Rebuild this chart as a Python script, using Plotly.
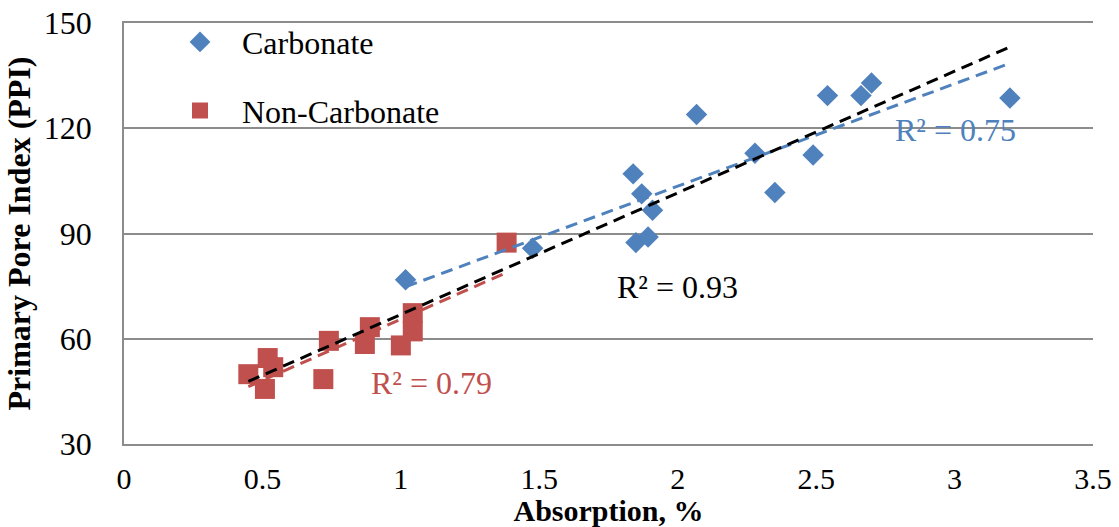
import numpy as np
import plotly.graph_objects as go

# ---- data ----
carb_x = [1.017, 1.476, 1.839, 1.870, 1.909, 1.849, 1.893, 2.068, 2.279, 2.351, 2.489, 2.541, 2.662, 2.700, 3.200]
carb_y = [76.8, 85.8, 107.0, 101.3, 96.6, 87.4, 89.0, 123.9, 112.9, 101.7, 112.4, 129.3, 129.3, 132.9, 128.6]

non_x = [0.449, 0.519, 0.539, 0.509, 0.720, 0.740, 0.888, 0.870, 1.000, 1.043, 1.043, 1.382]
non_y = [49.9, 54.5, 51.9, 45.7, 48.5, 59.4, 63.3, 58.5, 58.1, 67.3, 62.1, 87.4]

x_ticks = [0, 0.5, 1, 1.5, 2, 2.5, 3, 3.5]
x_tick_labels = ["0", "0.5", "1", "1.5", "2", "2.5", "3", "3.5"]
y_ticks = [30, 60, 90, 120, 150]
y_tick_labels = ["30", "60", "90", "120", "150"]

r2_labels = {"all": "R² = 0.93", "carb": "R² = 0.75", "non": "R² = 0.79"}

BLUE = "#4F81BD"
RED = "#C0504D"
GRID = "#8C8C8C"
FONT = "Liberation Serif"
FS = 32


def fit_line(xs, ys):
    xs = np.asarray(xs)
    ys = np.asarray(ys)
    m, b = np.polyfit(xs, ys, 1)
    xx = np.array([xs.min(), xs.max()])
    return xx, m * xx + b


fig = go.Figure()

fig.add_trace(go.Scatter(
    x=carb_x, y=carb_y, mode="markers", name="Carbonate",
    legendgroup="c",
    marker=dict(symbol="diamond", size=16.5, color=BLUE, line=dict(width=0)),
))
fig.add_trace(go.Scatter(
    x=non_x, y=non_y, mode="markers", name="Non-Carbonate",
    legendgroup="n",
    marker=dict(symbol="square", size=20, color=RED, line=dict(width=0)),
))

dash = "12px,7px"
lx, ly = fit_line(non_x, non_y)
fig.add_trace(go.Scatter(x=lx, y=ly, mode="lines", showlegend=False,
                         line=dict(color=RED, width=3, dash=dash)))
lx, ly = fit_line(carb_x, carb_y)
fig.add_trace(go.Scatter(x=lx, y=ly, mode="lines", showlegend=False,
                         line=dict(color=BLUE, width=3, dash=dash)))
lx, ly = fit_line(carb_x + non_x, carb_y + non_y)
fig.add_trace(go.Scatter(x=lx, y=ly, mode="lines", showlegend=False,
                         line=dict(color="black", width=3, dash=dash)))

fig.add_annotation(x=2.001, y=74.8, text=r2_labels["all"], showarrow=False,
                   font=dict(family=FONT, size=FS, color="black"))
fig.add_annotation(x=3.005, y=119.6, text=r2_labels["carb"], showarrow=False,
                   font=dict(family=FONT, size=FS, color=BLUE))
fig.add_annotation(x=1.109, y=47.4, text=r2_labels["non"], showarrow=False,
                   font=dict(family=FONT, size=FS, color=RED))

fig.update_layout(
    width=1119, height=527,
    margin=dict(l=124, r=26, t=23, b=83, autoexpand=False),
    paper_bgcolor="white", plot_bgcolor="white",
    font=dict(family=FONT, size=FS, color="black"),
    showlegend=True,
    legend=dict(
        x=(158 - 124) / (1093 - 124), y=1.02, xanchor="left", yanchor="top",
        bgcolor="rgba(0,0,0,0)", borderwidth=0,
        font=dict(family=FONT, size=FS, color="black"),
        traceorder="grouped", tracegroupgap=24, itemwidth=74,
    ),
    xaxis=dict(
        range=[0, 3.5], tickvals=x_ticks, ticktext=x_tick_labels,
        showgrid=False, zeroline=False, showline=True, mirror=True,
        linecolor=GRID, linewidth=1.5, ticks="", ticklabelstandoff=7,
        automargin=False,
        tickfont=dict(family=FONT, size=30, color="black"),
        title=dict(text="<b>Absorption, %</b>", standoff=9,
                   font=dict(family=FONT, size=30, color="black")),
    ),
    yaxis=dict(
        range=[30, 150], tickvals=y_ticks, ticktext=y_tick_labels,
        showgrid=True, gridcolor=GRID, gridwidth=1.5, zeroline=False,
        showline=True, linecolor=GRID, linewidth=1.5, ticks="",
        ticklabelstandoff=24, automargin=False,
        tickfont=dict(family=FONT, size=FS, color="black"),
        title=dict(text="<b>Primary Pore Index (PPI)</b>", standoff=4,
                   font=dict(family=FONT, size=FS, color="black")),
    ),
)

fig.write_html("out.html")
